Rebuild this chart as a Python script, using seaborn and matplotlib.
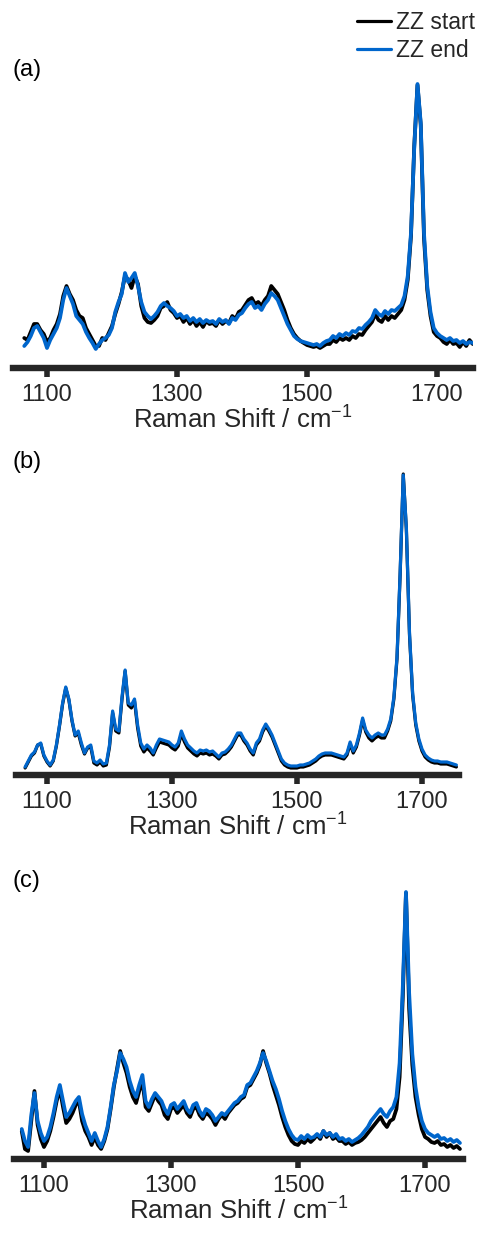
import matplotlib
matplotlib.use("Agg")
import numpy as np
import pandas as pd
import seaborn as sns
import matplotlib.pyplot as plt

# ---------------- data (Raman intensity, arbitrary units) ----------------
wavenumber = list(range(1065, 1756, 5))   # cm-1, 139 points

a_end = [22, 26, 32, 40, 42, 36, 30, 20, 28, 34,
         40, 50, 68, 80, 72, 64, 52, 48, 44, 36,
         30, 25, 19, 24, 28, 30, 33, 40, 56, 66,
         74, 95, 86, 90, 95, 82, 66, 56, 52, 49,
         52, 56, 62, 65, 62, 60, 57, 52, 54, 50,
         52, 47, 50, 46, 49, 45, 48, 46, 47, 44,
         49, 46, 48, 44, 50, 48, 53, 55, 60, 64,
         66, 60, 62, 58, 64, 68, 75, 72, 68, 60,
         52, 44, 38, 32, 29, 27, 26, 25, 24, 23,
         24, 22, 25, 27, 28, 32, 30, 34, 32, 35,
         33, 37, 36, 40, 39, 43, 46, 50, 58, 54,
         52, 57, 54, 58, 57, 60, 63, 72, 92, 135,
         220, 284, 245, 135, 82, 56, 40, 35, 32, 30,
         28, 30, 27, 28, 25, 27, 24, 26, 25]
a_start = [30, 28, 36, 44, 44, 38, 34, 26, 30, 38,
           44, 54, 72, 82, 74, 68, 58, 52, 50, 40,
           34, 28, 22, 22, 30, 28, 35, 42, 54, 64,
           76, 92, 88, 80, 92, 84, 62, 50, 46, 45,
           48, 52, 60, 62, 66, 58, 55, 50, 52, 46,
           50, 44, 48, 42, 46, 41, 47, 44, 45, 42,
           48, 44, 47, 45, 52, 49, 56, 58, 63, 68,
           70, 64, 66, 62, 68, 72, 82, 78, 74, 66,
           58, 48, 40, 34, 30, 27, 25, 23, 22, 21,
           22, 20, 22, 24, 24, 28, 26, 30, 28, 30,
           28, 32, 30, 34, 33, 38, 42, 46, 54, 48,
           46, 52, 48, 52, 50, 54, 58, 68, 88, 132,
           222, 283, 243, 130, 78, 52, 36, 32, 30, 26,
           24, 28, 24, 25, 21, 26, 22, 28, 24]

b_end = [8, 14, 20, 23, 30, 32, 20, 14, 10, 15,
         30, 50, 72, 88, 76, 55, 40, 44, 32, 22,
         28, 30, 14, 12, 15, 11, 12, 30, 64, 46,
         44, 78, 105, 72, 70, 76, 50, 32, 26, 30,
         27, 22, 30, 36, 35, 34, 33, 30, 28, 32,
         44, 36, 30, 27, 24, 22, 25, 24, 25, 23,
         24, 21, 18, 22, 23, 26, 30, 36, 42, 42,
         36, 32, 26, 22, 32, 36, 45, 51, 46, 40,
         32, 24, 16, 12, 10, 9, 9, 9, 10, 10,
         11, 12, 14, 16, 19, 21, 22, 22, 22, 21,
         20, 19, 18, 22, 33, 24, 30, 42, 57, 45,
         40, 37, 40, 42, 40, 40, 46, 56, 78, 118,
         202, 300, 247, 142, 82, 52, 36, 26, 20, 17,
         15, 14, 14, 13, 13, 13, 12, 11, 10]
b_start = [7, 13, 19, 22, 30, 31, 19, 13, 9, 14,
           29, 49, 71, 87, 75, 54, 39, 42, 30, 21,
           27, 28, 12, 10, 13, 9, 10, 28, 62, 44,
           42, 76, 104, 70, 67, 74, 47, 29, 23, 27,
           24, 20, 27, 33, 32, 31, 30, 27, 25, 29,
           41, 33, 27, 24, 21, 19, 22, 21, 22, 20,
           21, 19, 16, 20, 21, 24, 28, 34, 40, 40,
           34, 30, 24, 20, 30, 34, 43, 49, 44, 38,
           30, 22, 14, 10, 8, 7, 7, 7, 8, 8,
           9, 10, 12, 14, 17, 19, 20, 20, 20, 19,
           18, 17, 16, 20, 31, 22, 28, 40, 55, 43,
           37, 34, 37, 39, 37, 37, 44, 54, 76, 116,
           200, 301, 245, 140, 80, 50, 34, 24, 18, 15,
           13, 12, 12, 11, 11, 11, 10, 9, 8]

c_end = [30, 18, 12, 44, 66, 38, 26, 18, 22, 32,
         46, 62, 74, 58, 42, 46, 52, 58, 62, 45,
         34, 26, 18, 26, 18, 12, 20, 32, 52, 74,
         88, 106, 100, 92, 78, 68, 62, 74, 84, 58,
         52, 60, 66, 62, 58, 50, 45, 54, 56, 50,
         54, 58, 50, 46, 54, 56, 48, 43, 50, 48,
         44, 38, 42, 46, 44, 48, 52, 56, 58, 62,
         64, 74, 76, 82, 88, 96, 106, 98, 88, 78,
         70, 60, 48, 38, 30, 24, 20, 19, 23, 20,
         24, 21, 22, 25, 22, 28, 24, 26, 22, 25,
         20, 21, 18, 20, 17, 19, 21, 24, 28, 32,
         38, 42, 46, 50, 45, 42, 48, 52, 62, 96,
         172, 267, 166, 105, 72, 52, 38, 30, 26, 24,
         22, 24, 20, 21, 18, 20, 17, 19, 16]
c_start = [28, 10, 8, 38, 68, 34, 20, 12, 18, 28,
           42, 58, 70, 52, 36, 40, 46, 54, 58, 38,
           28, 22, 14, 22, 14, 10, 18, 30, 50, 72,
           90, 108, 96, 86, 72, 62, 56, 68, 78, 52,
           48, 56, 64, 58, 54, 44, 40, 50, 52, 46,
           50, 54, 46, 42, 50, 52, 44, 40, 46, 44,
           40, 34, 40, 44, 40, 46, 50, 54, 56, 60,
           62, 72, 74, 80, 86, 94, 108, 96, 86, 74,
           64, 54, 42, 32, 24, 18, 15, 14, 18, 16,
           20, 17, 20, 24, 20, 28, 22, 26, 20, 22,
           18, 18, 15, 17, 14, 16, 17, 19, 22, 26,
           30, 34, 38, 42, 36, 32, 38, 40, 50, 82,
           162, 266, 150, 94, 62, 44, 30, 22, 20, 17,
           16, 18, 14, 15, 12, 14, 11, 13, 10]

panel_labels = ["(a)", "(b)", "(c)"]
series_labels = ["ZZ start", "ZZ end"]
tick_values = [1100, 1300, 1500, 1700]
x_label = "Raman Shift / cm$^{-1}$"

# ---------------- style ----------------
sns.set_theme(style="ticks")
plt.rcParams["font.family"] = ["Liberation Sans", "DejaVu Sans"]
plt.rcParams["mathtext.fontset"] = "custom"
plt.rcParams["mathtext.rm"] = "Liberation Sans"
plt.rcParams["mathtext.it"] = "Liberation Sans"

W, H = 478, 1235
fig = plt.figure(figsize=(W / 100, H / 100), dpi=100)

AX_COL = "#262626"
BLUE = "#0066cc"

panels = [
    # (rect in px: left, right, top, bottom), xlim, ytop, data, label y, lw
    ((13, 473, 70, 368), (1047.7, 1755.4), 298, a_start, a_end, 70, 2.7),
    ((16, 459, 465, 775), (1050.4, 1759.2), 310, b_start, b_end, 462, 2.3),
    ((14, 463, 880, 1159), (1052.8, 1759.8), 279, c_start, c_end, 881, 2.7),
]

handles = None
for i, ((l, r, t, b), xlim, ytop, s_start, s_end, lab_y, lw) in enumerate(panels):
    ax = fig.add_axes([l / W, 1 - b / H, (r - l) / W, (b - t) / H])
    df = pd.DataFrame({"shift": wavenumber, "start": s_start, "end": s_end})
    sns.lineplot(data=df, x="shift", y="start", color="black", lw=lw,
                 ax=ax, label=series_labels[0], estimator=None, sort=False)
    sns.lineplot(data=df, x="shift", y="end", color=BLUE, lw=lw,
                 ax=ax, label=series_labels[1], estimator=None, sort=False)
    if ax.get_legend() is not None:
        ax.get_legend().remove()
    if i == 0:
        handles = ax.lines[:2]
    ax.set_xlim(*xlim)
    ax.set_ylim(0, ytop)
    ax.set_yticks([])
    ax.set_ylabel("")
    for s in ["left", "right", "top"]:
        ax.spines[s].set_visible(False)
    ax.spines["bottom"].set_linewidth(4.6)
    ax.spines["bottom"].set_color(AX_COL)
    ax.set_xticks(tick_values)
    ax.set_xticklabels([str(v) for v in tick_values])
    ax.tick_params(axis="x", length=6.5, width=4, color=AX_COL,
                   labelcolor=AX_COL, labelsize=17, pad=5)
    ax.set_xlabel(x_label, fontsize=18.5, color=AX_COL, labelpad=0)
    ax.patch.set_alpha(0)
    fig.text(13 / W, 1 - lab_y / H, panel_labels[i], fontsize=17,
             va="center", ha="left", color="black")

leg = fig.legend(handles, series_labels, loc="upper right",
                 bbox_to_anchor=(475 / W, 1 - 11 / H), frameon=False,
                 fontsize=16.5, handlelength=1.5, handletextpad=0.22,
                 labelspacing=0.22, borderpad=0, borderaxespad=0)
for h in leg.legend_handles:
    h.set_linewidth(2.3)

fig.savefig("out.png", dpi=100)
